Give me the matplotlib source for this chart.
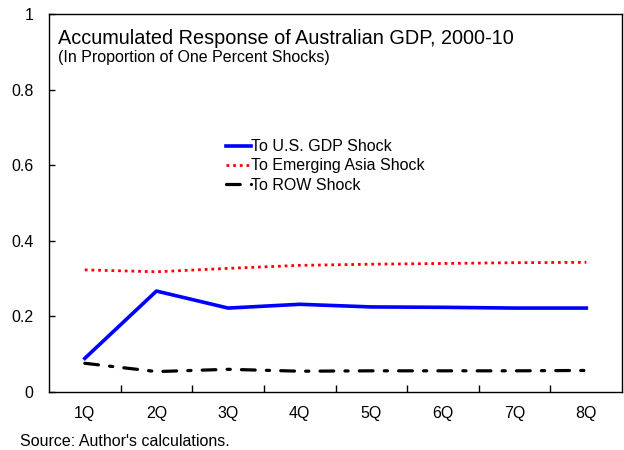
import matplotlib
matplotlib.use("Agg")
import matplotlib.pyplot as plt

plt.rcParams["font.family"] = ["Liberation Sans", "DejaVu Sans"]

quarters = ["1Q", "2Q", "3Q", "4Q", "5Q", "6Q", "7Q", "8Q"]
us_shock = [0.089, 0.267, 0.222, 0.232, 0.225, 0.224, 0.222, 0.222]
asia_shock = [0.323, 0.318, 0.327, 0.335, 0.338, 0.340, 0.342, 0.343]
row_shock = [0.076, 0.054, 0.060, 0.055, 0.056, 0.056, 0.056, 0.057]

fig = plt.figure(figsize=(6.24, 4.5), dpi=100)
ax = fig.add_axes([0.0785, 0.1289, 0.9185, 0.8401])

x = list(range(len(quarters)))
ax.plot(x, us_shock, color="#0000FF", linewidth=2.6, label="To U.S. GDP Shock")
ax.plot(x, asia_shock, color="#FF0000", linewidth=2.0, linestyle=(0, (1, 1.4)), label="To Emerging Asia Shock")
ax.plot(x, row_shock, color="black", linewidth=2.3, linestyle=(0, (4.3, 3.5, 1, 3.5)),
        dash_capstyle="round", label="To ROW Shock")

ax.set_xlim(-0.5, len(quarters) - 0.5)
ax.set_ylim(0, 1)
ax.set_yticks([0, 0.2, 0.4, 0.6, 0.8, 1])
ax.set_yticklabels(["0", "0.2", "0.4", "0.6", "0.8", "1"])
ax.set_xticks(x)
ax.set_xticklabels(quarters)
ax.set_xticks([i + 0.5 for i in x[:-1]], minor=True)
ax.tick_params(axis="x", which="major", length=0, pad=10, labelsize=11.5)
ax.tick_params(axis="x", which="minor", direction="in", length=5, width=1)
ax.tick_params(axis="y", direction="in", length=4, width=1, pad=11, labelsize=11.5)
for spine in ax.spines.values():
    spine.set_linewidth(1.0)

ax.text(0.016, 0.935, "Accumulated Response of Australian GDP, 2000-10", transform=ax.transAxes,
        fontsize=14.3, va="center", ha="left")
ax.text(0.016, 0.886, "(In Proportion of One Percent Shocks)", transform=ax.transAxes,
        fontsize=11.5, va="center", ha="left")

ax.legend(loc="upper left", bbox_to_anchor=(0.2955, 0.69), frameon=False, fontsize=11.5,
          handlelength=1.55, handletextpad=0.0, labelspacing=0.27, borderpad=0)

fig.text(0.032, 0.01, "Source: Author's calculations.", fontsize=11.5, ha="left", va="baseline")

fig.savefig("out.png")
